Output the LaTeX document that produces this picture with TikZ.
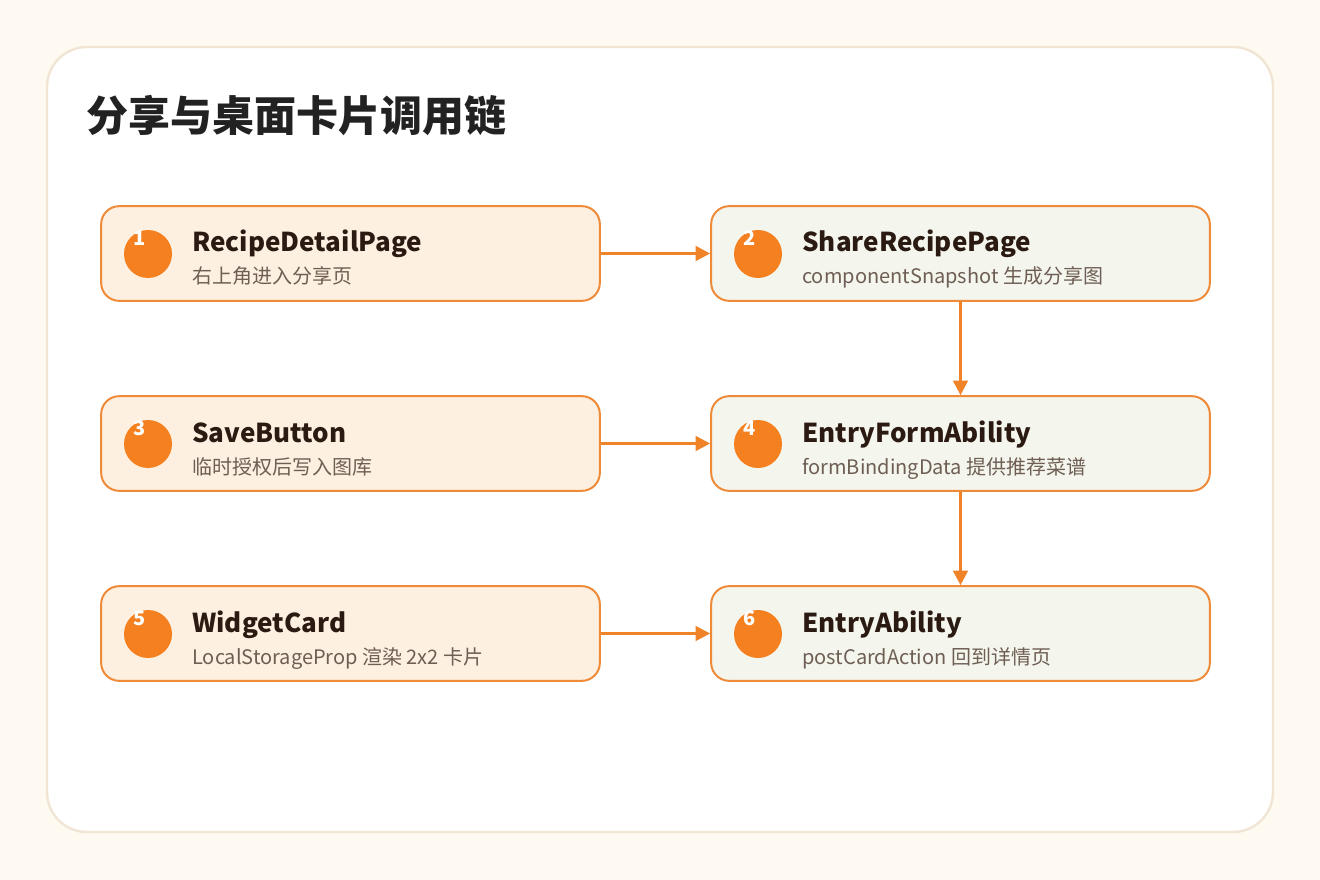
\documentclass[tikz,border=0pt]{standalone}
\usepackage{fontspec}
\setmainfont{Noto Sans CJK SC}
\usetikzlibrary{arrows.meta}
\definecolor{bgc}{HTML}{FEFAF2}
\definecolor{panelline}{HTML}{F1E5D3}
\definecolor{boxline}{HTML}{EE8A38}
\definecolor{leftfill}{HTML}{FEF0E0}
\definecolor{rightfill}{HTML}{F4F6EE}
\definecolor{dotc}{HTML}{F5801F}
\definecolor{arrowc}{HTML}{F08228}
\definecolor{titlec}{HTML}{222222}
\definecolor{headc}{HTML}{2A1A12}
\definecolor{subc}{HTML}{6E5E54}
\begin{document}
\begin{tikzpicture}[x=0.75pt,y=-0.75pt,
  card/.style={draw=boxline,line width=1.5pt,rounded corners=13.5pt,minimum width=374pt,minimum height=71pt,inner sep=0pt},
  lcard/.style={card,fill=leftfill},
  rcard/.style={card,fill=rightfill},
  dot/.style={circle,fill=dotc,minimum size=36pt,inner sep=0pt},
  num/.style={text=white,font=\bfseries\fontsize{15}{15}\selectfont,inner sep=0pt},
  head/.style={anchor=base west,text=headc,font=\bfseries\fontsize{19.5}{20}\selectfont,inner sep=0pt},
  sub/.style={anchor=base west,text=subc,font=\fontsize{15}{15}\selectfont,inner sep=0pt},
  link/.style={draw=arrowc,line width=2.2pt,-{Triangle[length=11pt,width=11pt]}}]
\fill[bgc] (0,0) rectangle (1320,880);
\useasboundingbox (0,0) rectangle (1320,880);
\draw[panelline,fill=white,line width=1.8pt,rounded corners=30pt] (47,47) rectangle (1273,832);
\node[anchor=base west,inner sep=0pt,text=titlec,font=\bfseries\fontsize{31.5}{32}\selectfont] (title) at (86,132) {分享与桌面卡片调用链};
% cards
\node[lcard] (c1) at (350.5,253.5) {};
\node[rcard] (c2) at (960.5,253.5) {};
\node[lcard] (c3) at (350.5,443.5) {};
\node[rcard] (c4) at (960.5,443.5) {};
\node[lcard] (c5) at (350.5,633.5) {};
\node[rcard] (c6) at (960.5,633.5) {};
% dots and numbers
\foreach \i/\x/\y in {1/148/254,2/758/254,3/148/444,4/758/444,5/148/634,6/758/634}{
  \node[dot] (d\i) at (\x,\y) {};
  \node[num] (n\i) at (\x-8,\y-16) {\i};
}
% texts
\node[head] (h1) at (192,252) {RecipeDetailPage};
\node[sub]  (s1) at (192,284) {右上角进入分享页};
\node[head] (h2) at (802,252) {ShareRecipePage};
\node[sub]  (s2) at (802,284) {componentSnapshot 生成分享图};
\node[head] (h3) at (192,442) {SaveButton};
\node[sub]  (s3) at (192,474) {临时授权后写入图库};
\node[head] (h4) at (802,442) {EntryFormAbility};
\node[sub]  (s4) at (802,474) {formBindingData 提供推荐菜谱};
\node[head] (h5) at (192,632) {WidgetCard};
\node[sub]  (s5) at (192,664) {LocalStorageProp 渲染 2x2 卡片};
\node[head] (h6) at (802,632) {EntryAbility};
\node[sub]  (s6) at (802,664) {postCardAction 回到详情页};
% connectors
\draw[link] (c1.east) -- (c2.west);
\draw[link] (c3.east) -- (c4.west);
\draw[link] (c5.east) -- (c6.west);
\draw[link] (c2.south) -- (c4.north);
\draw[link] (c4.south) -- (c6.north);
\end{tikzpicture}
\end{document}
